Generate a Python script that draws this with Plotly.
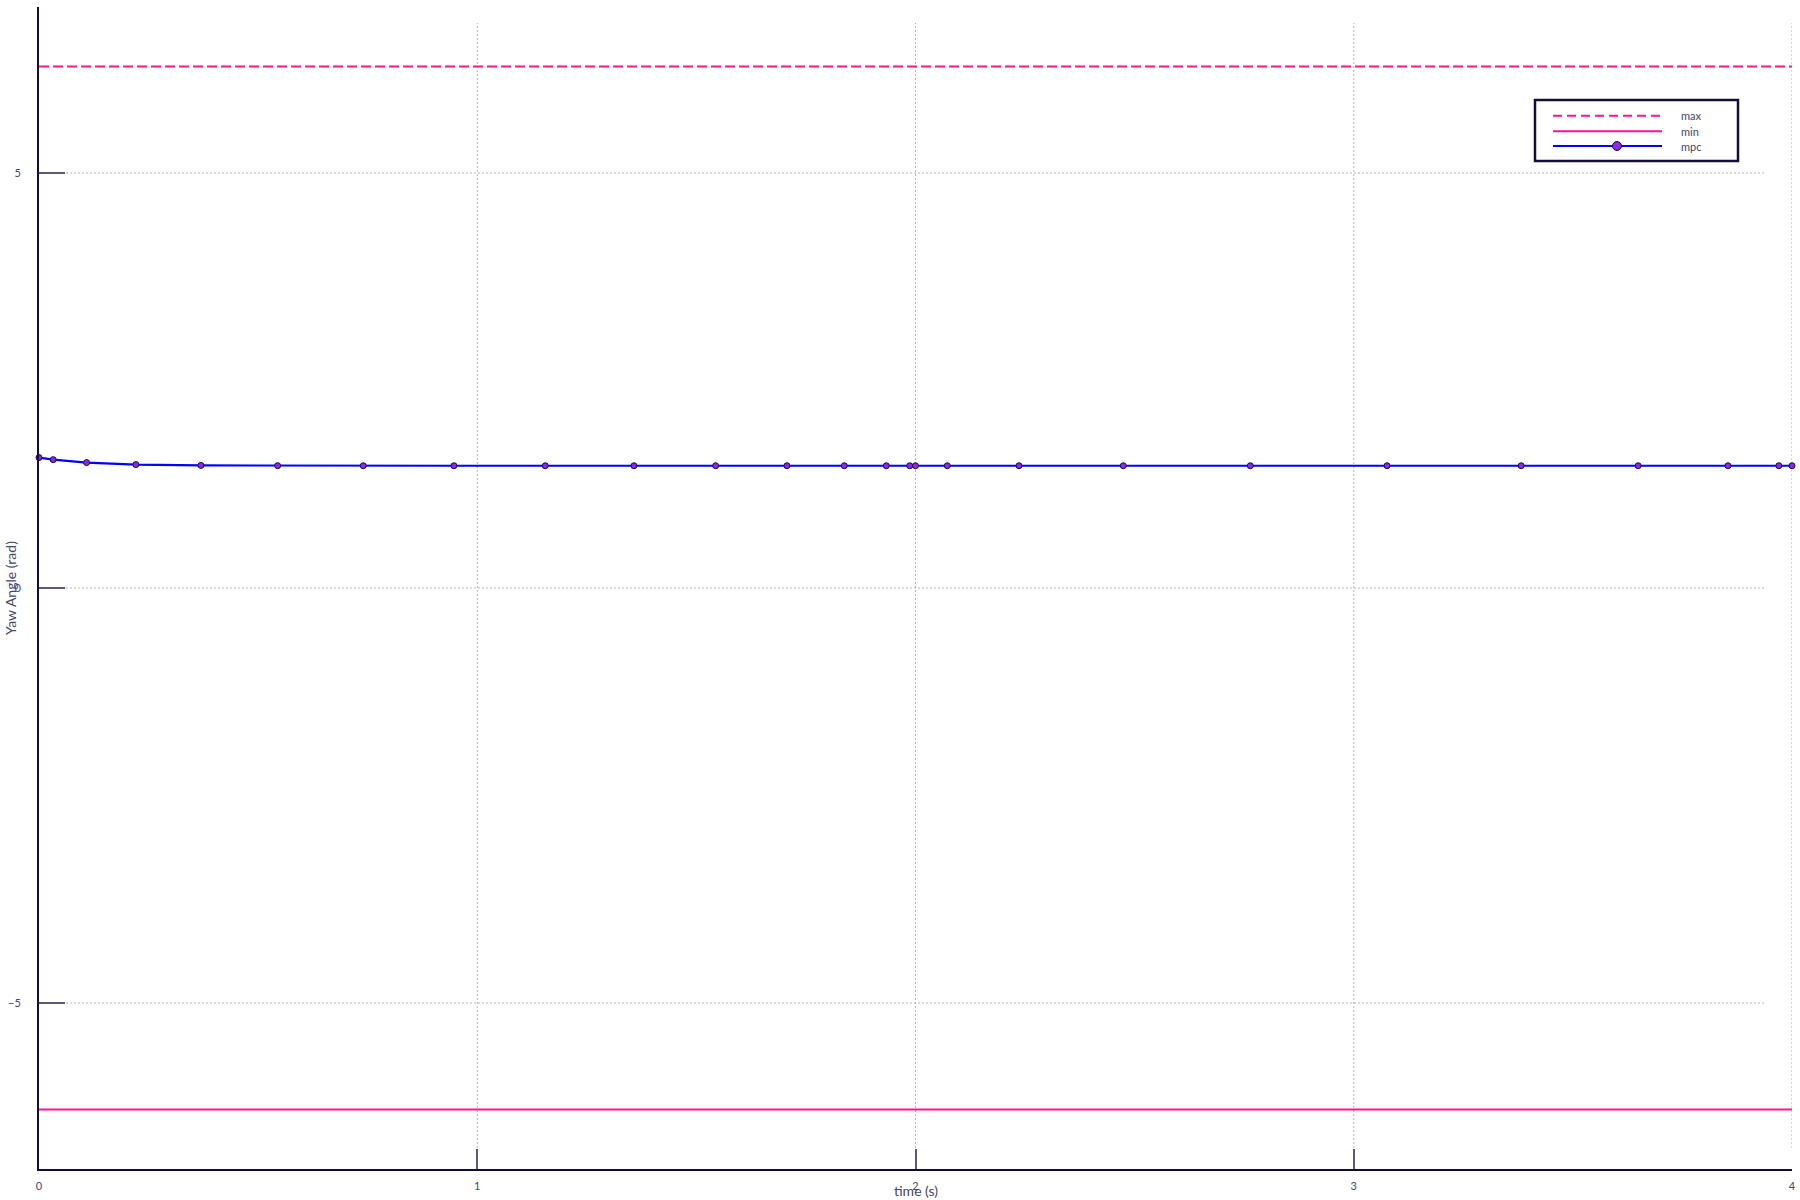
import math
import plotly.graph_objects as go

# ---------------- data ----------------
t_bounds = [0.0, 4.0]
yaw_max = [2 * math.pi, 2 * math.pi]
yaw_min = [-2 * math.pi, -2 * math.pi]

t_mpc = [0.0, 0.0324, 0.1086, 0.2211, 0.3695, 0.5445, 0.7399, 0.9468, 1.1552,
         1.3576, 1.5440, 1.7067, 1.8375, 1.9334, 1.9868, 2.0, 2.0726, 2.2362,
         2.4742, 2.7640, 3.0760, 3.382, 3.649, 3.854, 3.970, 4.0]
yaw_mpc = [1.571, 1.546, 1.511, 1.487, 1.477, 1.474, 1.473, 1.473, 1.473,
           1.473, 1.473, 1.473, 1.473, 1.473, 1.473, 1.473, 1.473, 1.473,
           1.473, 1.473, 1.473, 1.473, 1.473, 1.473, 1.473, 1.473]

x_ticks = [0, 1, 2, 3, 4]
y_ticks = [-5, 0, 5]
x_label = "time (s)"
y_label = "Yaw Angle (rad)"
legend_names = ["max", "min", "mpc"]

# ---------------- style ----------------
W, H = 1800, 1200
ML, MR, MT, MB = 39, 8, 7, 31
PW, PH = W - ML - MR, H - MT - MB

PINK = "#ff1493"
BLUE = "#0000ff"
PURPLE = "#8a2be2"
DARK = "#140d3a"
TEXT = "#45456a"
GRID = "#b4b4b4"
FONT = "Lato"


def px(x):
    return (x - ML) / PW


def py(y):
    return (H - MB - y) / PH


fig = go.Figure()
fig.add_trace(go.Scatter(x=t_bounds, y=yaw_max, mode="lines", name=legend_names[0],
                         line=dict(color=PINK, width=2, dash="10px,4px"), showlegend=False))
fig.add_trace(go.Scatter(x=t_bounds, y=yaw_min, mode="lines", name=legend_names[1],
                         line=dict(color=PINK, width=2), showlegend=False))
fig.add_trace(go.Scatter(x=t_mpc, y=yaw_mpc, mode="lines+markers", name=legend_names[2],
                         line=dict(color=BLUE, width=2.2),
                         marker=dict(color=PURPLE, size=6, line=dict(color=DARK, width=1)),
                         showlegend=False, cliponaxis=False))

shapes = []
# grid lines (dotted, partial length like the reference)
for xv in x_ticks[1:]:
    shapes.append(dict(type="line", xref="x", yref="paper", x0=xv, x1=xv,
                       y0=py(1148), y1=py(23), layer="below",
                       line=dict(color=GRID, width=1, dash="2px,2px")))
for yv in y_ticks:
    shapes.append(dict(type="line", xref="paper", yref="y", x0=px(66), x1=px(1765),
                       y0=yv, y1=yv, layer="below",
                       line=dict(color=GRID, width=1, dash="2px,2px")))

# custom legend
shapes.append(dict(type="rect", xref="paper", yref="paper", x0=px(1535), x1=px(1738),
                   y0=py(161), y1=py(100), fillcolor="white",
                   line=dict(color=DARK, width=2.5), layer="above"))
leg_y = [115.7, 131.3, 146.0]
leg_styles = [dict(color=PINK, width=2, dash="9px,5px"), dict(color=PINK, width=2),
              dict(color=BLUE, width=2)]
for yy, st in zip(leg_y, leg_styles):
    shapes.append(dict(type="line", xref="paper", yref="paper", x0=px(1553), x1=px(1662),
                       y0=py(yy), y1=py(yy), line=st, layer="above"))
r = 4.5
shapes.append(dict(type="circle", xref="paper", yref="paper",
                   x0=px(1617 - r), x1=px(1617 + r), y0=py(leg_y[2] + r), y1=py(leg_y[2] - r),
                   fillcolor=PURPLE, line=dict(color=DARK, width=1), layer="above"))

annotations = []
for yy, name in zip(leg_y, legend_names):
    annotations.append(dict(xref="paper", yref="paper", x=px(1679), y=py(yy), text=name,
                            showarrow=False, xanchor="left", yanchor="middle",
                            font=dict(family=FONT, size=11, color=TEXT)))
annotations.append(dict(xref="paper", yref="paper", x=0.5, y=py(1190), text=x_label,
                        showarrow=False, xanchor="center", yanchor="middle",
                        font=dict(family=FONT, size=14, color=TEXT)))
annotations.append(dict(xref="paper", yref="paper", x=px(10), y=0.5, text=y_label,
                        showarrow=False, xanchor="center", yanchor="middle", textangle=-90,
                        font=dict(family=FONT, size=14, color=TEXT)))

fig.update_layout(
    width=W, height=H,
    margin=dict(l=ML, r=MR, t=MT, b=MB, autoexpand=False),
    paper_bgcolor="white", plot_bgcolor="white",
    font=dict(family=FONT, size=11, color=TEXT),
    shapes=shapes, annotations=annotations,
    xaxis=dict(range=[0, 4], tickvals=x_ticks, ticktext=[str(v) for v in x_ticks],
               showgrid=False, zeroline=False, showline=True, linecolor=DARK, linewidth=2,
               ticks="inside", ticklen=20, tickwidth=1.5, tickcolor="#5a5a78",
               ticklabelstandoff=6, tickfont=dict(family=FONT, size=11, color=TEXT)),
    yaxis=dict(range=[-7, 7], tickvals=y_ticks, ticktext=["\u22125", "0", "5"],
               showgrid=False, zeroline=False, showline=True, linecolor=DARK, linewidth=2,
               ticks="inside", ticklen=26, tickwidth=1.5, tickcolor="#5a5a78",
               ticklabelstandoff=14, tickfont=dict(family=FONT, size=11, color=TEXT)),
)

fig.write_html("out.html")
